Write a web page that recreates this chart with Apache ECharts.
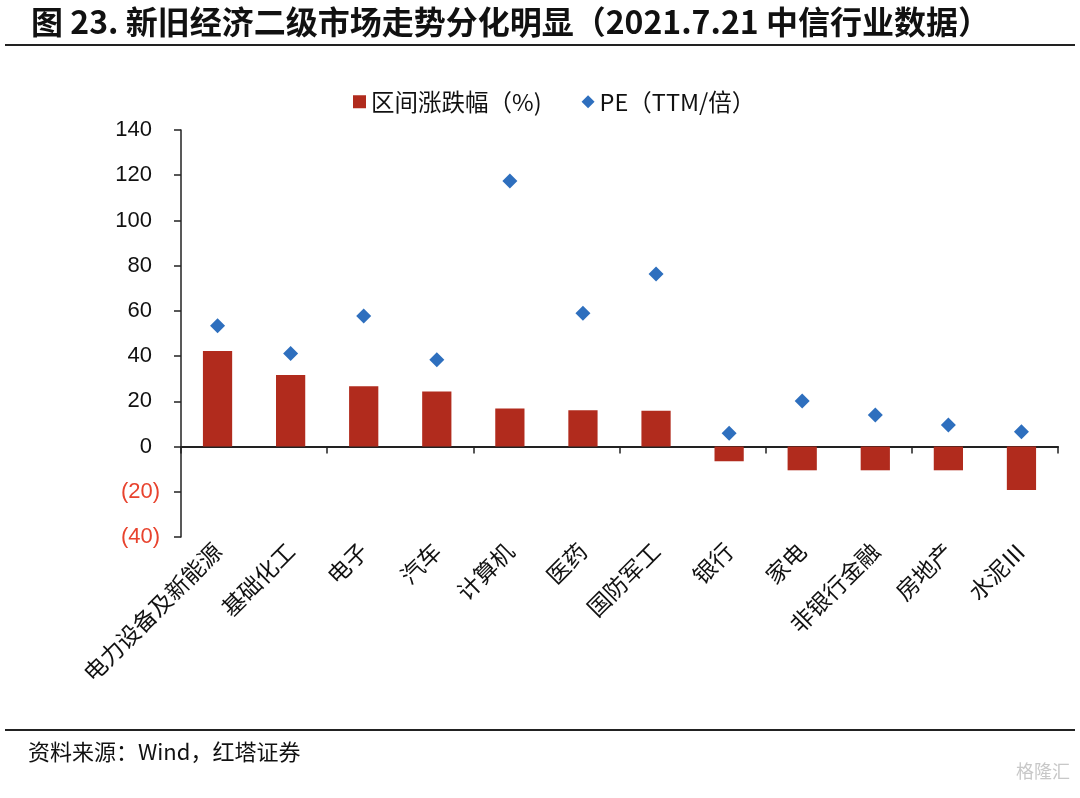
<!DOCTYPE html>
<html><head><meta charset="utf-8">
<script src="https://cdn.jsdelivr.net/npm/echarts@6/dist/echarts.min.js"></script>
<style>html,body{margin:0;padding:0;background:#fff}#c{width:1080px;height:798px}</style>
</head><body><div id="c"></div>
<script>
const categories = ['电力设备及新能源','基础化工','电子','汽车','计算机','医药','国防军工','银行','家电','非银行金融','房地产','水泥Ⅲ'];
const changePct = [42.3, 31.6, 26.7, 24.3, 16.8, 16.1, 15.8, -6.5, -10.5, -10.5, -10.5, -19.2];
const peTTM = [53.4, 41.2, 57.7, 38.4, 117.4, 59.0, 76.3, 5.9, 20.2, 14.0, 9.5, 6.5];
const yTicks = [-40, -20, 0, 20, 40, 60, 80, 100, 120, 140];

const chart = echarts.init(document.getElementById('c'));
const cjk = '"Noto Sans CJK SC", "Liberation Sans", Arial, sans-serif';
const arial = '"Liberation Sans", Arial, sans-serif';
chart.setOption({
  animation: false,
  backgroundColor: '#fff',
  title: {
    text: '图 23. 新旧经济二级市场走势分化明显（2021.7.21 中信行业数据）',
    left: 26, top: 1,
    textStyle: {fontFamily: cjk, fontSize: 32, fontWeight: 'bold', color: '#111'}
  },
  legend: {
    top: 85, left: 348,
    itemGap: 40,
    itemWidth: 13, itemHeight: 13,
    textStyle: {fontFamily: cjk, fontSize: 23.5, color: '#111'},
    data: [
      {name: '区间涨跌幅（%)', icon: 'rect'},
      {name: 'PE（TTM/倍）', icon: 'diamond'}
    ]
  },
  graphic: [
    {type: 'line', shape: {x1: 5, y1: 45, x2: 1075, y2: 45}, style: {stroke: '#222', lineWidth: 2}},
    {type: 'line', shape: {x1: 5, y1: 730, x2: 1075, y2: 730}, style: {stroke: '#222', lineWidth: 2}},
    {type: 'text', left: 28, top: 741, style: {text: '资料来源：Wind，红塔证券', font: '22px ' + cjk, fill: '#111'}},
    {type: 'text', right: 10, top: 762, style: {text: '格隆汇', font: '18px ' + cjk, fill: '#c8c8c8'}}
  ],
  grid: {left: 181, right: 22, top: 130, bottom: 261},
  xAxis: [
    {
      type: 'category', data: categories,
      axisLine: {onZero: true, lineStyle: {color: '#222', width: 2}},
      axisTick: {show: true, inside: false, length: 7, lineStyle: {color: '#222', width: 1.5}},
      axisLabel: {show: false},
      splitLine: {show: false}
    },
    {
      type: 'category', data: categories, position: 'bottom',
      axisLine: {show: false, onZero: false},
      axisTick: {show: false},
      axisLabel: {rotate: 45, margin: 10, interval: 0, fontFamily: cjk, fontSize: 23, color: '#111'}
    }
  ],
  yAxis: {
    type: 'value', min: -40, max: 140, interval: 20,
    axisLine: {show: true, lineStyle: {color: '#222', width: 1.5}},
    axisTick: {show: true, length: 7, lineStyle: {color: '#222', width: 1.5}},
    splitLine: {show: false},
    axisLabel: {
      margin: 21,
      formatter: v => yTicks.includes(v) ? (v < 0 ? '{neg|(' + (-v) + ')}' : '{pos|' + v + '}') : '',
      rich: {
        neg: {color: '#e8432e', fontSize: 22, fontFamily: arial},
        pos: {color: '#111', fontSize: 22, fontFamily: arial, padding: [0, 8, 0, 0]}
      }
    }
  },
  series: [
    {
      name: '区间涨跌幅（%)', type: 'bar', xAxisIndex: 0, data: changePct,
      barWidth: '40%', itemStyle: {color: '#b12b1d'}
    },
    {
      name: 'PE（TTM/倍）', type: 'scatter', xAxisIndex: 0, data: peTTM,
      symbol: 'diamond', symbolSize: 15, itemStyle: {color: '#2e6fbe', opacity: 1}
    }
  ]
});
</script></body></html>
